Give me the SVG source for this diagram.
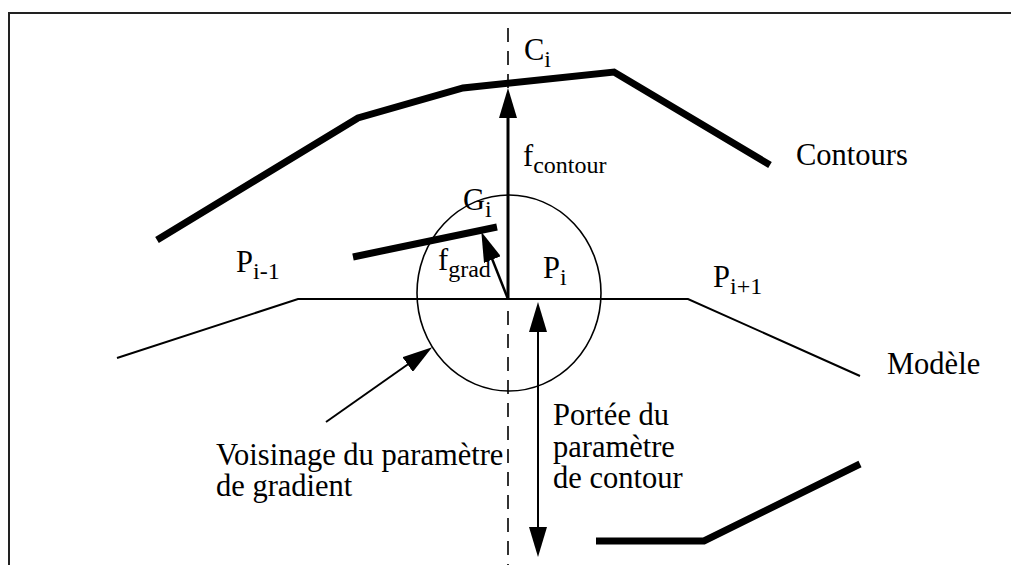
<svg xmlns="http://www.w3.org/2000/svg" width="1011" height="565" viewBox="0 0 1011 565">
<style>
text{font-family:"Liberation Serif","Times New Roman",serif;font-size:30.5px;fill:#000}
.sub{font-size:24px}
.thick{fill:none;stroke:#000;stroke-width:7;stroke-linejoin:miter}
.thin{fill:none;stroke:#000;stroke-width:2}
.dash{fill:none;stroke:#000;stroke-width:1.6;stroke-dasharray:14 9}
</style>
<defs>
<marker id="ah" markerUnits="userSpaceOnUse" markerWidth="30" markerHeight="18" viewBox="0 0 30 18" refX="20" refY="9" orient="auto-start-reverse">
<path d="M0,0 L30,9 L0,18 Z" fill="#000"/>
</marker>
</defs>
<rect width="1011" height="565" fill="#fff"/>
<g id="frame">
<path d="M9,565 V13 H1011" fill="none" stroke="#222" stroke-width="2"/>
</g>
<g id="axis">
<line class="dash" x1="508" y1="28" x2="508" y2="88"/>
<line class="dash" x1="508" y1="311" x2="508" y2="565"/>
</g>
<g id="contours">
<polyline class="thick" points="157,240 358,118 463,88 614,72 770,165"/>
<line class="thick" x1="353" y1="257" x2="497" y2="227"/>
<polyline class="thick" points="596,541 704,541 860,464"/>
</g>
<g id="modele">
<polyline class="thin" points="117,358 298,299 688,299 860,376"/>
</g>
<g id="voisinage-circle">
<ellipse cx="509" cy="293" rx="92" ry="98" fill="none" stroke="#000" stroke-width="1.6"/>
</g>
<g id="connectors">
<line x1="508" y1="299" x2="508" y2="98" stroke="#000" stroke-width="3" marker-end="url(#ah)"/>
<line x1="508" y1="299" x2="485" y2="241" stroke="#000" stroke-width="2.5" marker-end="url(#ah)"/>
<line x1="538" y1="312" x2="538" y2="547" stroke="#000" stroke-width="2" marker-start="url(#ah)" marker-end="url(#ah)"/>
<line x1="326" y1="422" x2="424" y2="353" stroke="#000" stroke-width="2" marker-end="url(#ah)"/>
</g>
<g id="labels">
<text x="524" y="60">C<tspan class="sub" dy="7">i</tspan></text>
<text x="523" y="166">f<tspan class="sub" dy="7">contour</tspan></text>
<text x="796" y="165">Contours</text>
<text x="463" y="210">G<tspan class="sub" dy="7">i</tspan></text>
<text x="438" y="270">f<tspan class="sub" dy="7">grad</tspan></text>
<text x="543" y="278">P<tspan class="sub" dy="7">i</tspan></text>
<text x="236" y="272">P<tspan class="sub" dy="7">i-1</tspan></text>
<text x="713" y="287">P<tspan class="sub" dy="7">i+1</tspan></text>
<text x="887" y="374">Modèle</text>
<text x="216" y="465">Voisinage du paramètre</text>
<text x="216" y="496">de gradient</text>
<text x="553" y="425">Portée du</text>
<text x="553" y="457">paramètre</text>
<text x="553" y="488">de contour</text>
</g>
</svg>
